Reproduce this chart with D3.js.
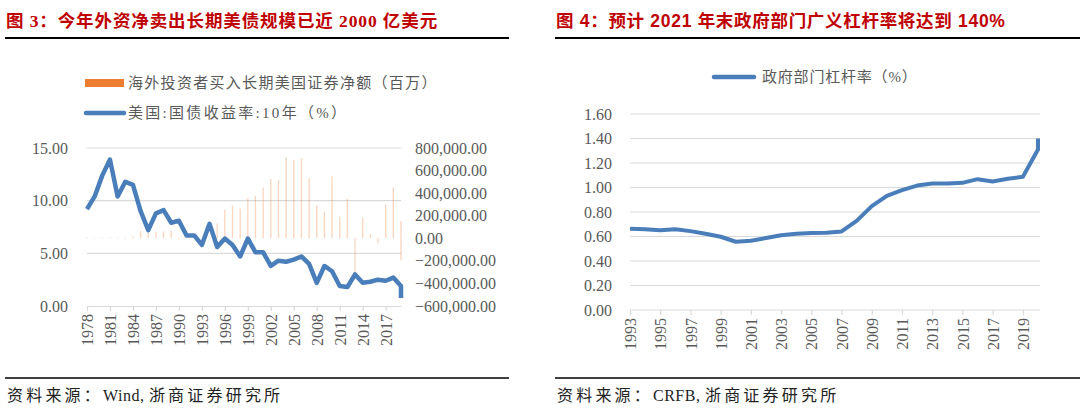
<!DOCTYPE html>
<html>
<head>
<meta charset="utf-8">
<script src="https://cdnjs.cloudflare.com/ajax/libs/d3/7.8.5/d3.min.js"></script>
<style>
  body { margin: 0; background: #fff; }
  svg { display: block; }
  text { font-family: "Liberation Serif", "Noto Sans CJK SC", serif; }
</style>
</head>
<body>
<div id="chart"></div>
<script>

// ---- left chart: foreign purchases of long-term US securities + 10Y yield
// the source plots its last value (2020) on the same slot as 2019
var usYears = d3.range(1978, 2020);  // x slots 1978..2019
var usYearLabels = ['1978','1981','1984','1987','1990','1993','1996','1999','2002','2005','2008','2011','2014','2017'];
var foreignBuy = [6000, 5000, 7000, 6000, 8000, 7000, 15000, 65000, 78000, 55000,
                  60000, 72000, -10000, 2000, 2000, 2000, 2000, 130000, 255000, 290000,
                  265000, 355000, 375000, 450000, 525000, 515000, 717000, 695000, 710000, 535000,
                  290000, 240000, 550000, 190000, 350000, -300000, 185000, 35000, -45000, 300000,
                  450000, 150000, -195000];
var yield10y = [9.2, 10.4, 12.4, 13.9, 10.4, 11.8, 11.5, 9.0, 7.2, 8.8,
                9.1, 7.9, 8.1, 6.7, 6.7, 5.8, 7.8, 5.6, 6.4, 5.8,
                4.7, 6.4, 5.1, 5.1, 3.8, 4.3, 4.2, 4.4, 4.7, 4.0,
                2.2, 3.8, 3.3, 1.9, 1.8, 3.0, 2.2, 2.3, 2.5, 2.4,
                2.7, 1.9, 0.75];
var yieldTicks = [0, 5, 10, 15];
var buyTicks = [-600000, -400000, -200000, 0, 200000, 400000, 600000, 800000];

// ---- right chart: government leverage ratio
// 2021 forecast sits on the 2020 slot, like the source
var levYears = d3.range(1993, 2021);  // x slots 1993..2020
var levYearLabels = ['1993','1995','1997','1999','2001','2003','2005','2007','2009','2011','2013','2015','2017','2019'];
var govLeverage = [0.663, 0.66, 0.652, 0.66, 0.644, 0.622, 0.598, 0.557, 0.565, 0.587,
                   0.61, 0.622, 0.628, 0.63, 0.641, 0.728, 0.848, 0.932, 0.978, 1.016,
                   1.033, 1.033, 1.038, 1.068, 1.049, 1.071, 1.087, 1.31, 1.40];
var levTicks = [0, 0.2, 0.4, 0.6, 0.8, 1.0, 1.2, 1.4, 1.6];

var blue = '#4a7ebb';
var grid = '#d9d9d9';
var axisText = '#595959';

var svg = d3.select('#chart').append('svg')
    .attr('width', 1080).attr('height', 412);

function slot(years, i) {
  return years[Math.min(i, years.length - 1)];
}

function header(x0, x1, title, latinFont, spacing) {
  svg.append('text')
     .attr('x', x0 + 1).attr('y', 27)
     .attr('fill', '#c00000')
     .attr('font-size', 17.5)
     .attr('font-weight', 'bold')
     .attr('letter-spacing', spacing)
     .style('font-family', latinFont + ', "Noto Sans CJK SC", sans-serif')
     .text(title);
  svg.append('line')
     .attr('x1', x0).attr('x2', x1).attr('y1', 38).attr('y2', 38)
     .attr('stroke', '#000').attr('stroke-width', 2);
}

// source note: chinese parts spaced wide, latin part plain
function footer(x0, x1, parts) {
  svg.append('line')
     .attr('x1', x0).attr('x2', x1).attr('y1', 378).attr('y2', 378)
     .attr('stroke', '#000').attr('stroke-width', 1.5);
  svg.append('text')
     .attr('x', x0 + 2).attr('y', 401)
     .attr('fill', '#222')
     .attr('font-size', 16)
     .selectAll('tspan')
     .data(parts)
     .enter().append('tspan')
     .attr('letter-spacing', function(d, i) { return i === 1 ? 0.5 : 3.2; })
     .text(function(d) { return d; });
}

// ================= left chart
header(5, 509, '图  3：今年外资净卖出长期美债规模已近 2000 亿美元', '"Liberation Serif"', 0.9);
footer(5, 509, ['资料来源：', 'Wind, ', '浙商证券研究所']);

var xL = d3.scalePoint().domain(usYears).range([87, 401]);
var yL = d3.scaleLinear().domain([0, 15]).range([306, 148]);
var yR = d3.scaleLinear().domain([-600000, 800000]).range([306, 148]);

var gL = svg.append('g');

// gridlines
gL.selectAll('.gridL')
  .data(yieldTicks.filter(function(d) { return d > 0; }))
  .enter().append('line')
  .attr('x1', 87).attr('x2', 401)
  .attr('y1', function(d) { return yL(d); })
  .attr('y2', function(d) { return yL(d); })
  .attr('stroke', grid).attr('stroke-width', 1.2);

// x axis
var axL = gL.append('g')
  .attr('transform', 'translate(0,' + yL(0) + ')')
  .call(d3.axisBottom(xL)
        .tickValues(usYearLabels.map(Number))
        .tickSize(5)
        .tickSizeOuter(0));
axL.select('.domain').attr('stroke', grid).attr('stroke-width', 1.2);
axL.selectAll('.tick line').attr('stroke', grid).attr('stroke-width', 1.2);
axL.selectAll('.tick text')
  .attr('fill', axisText)
  .attr('font-size', 16)
  .style('font-family', '"Liberation Serif", serif')
  .attr('transform', 'rotate(-90)')
  .attr('text-anchor', 'end')
  .attr('x', -8).attr('y', 0).attr('dy', '0.35em');

// left y labels
gL.selectAll('.ylabL')
  .data(yieldTicks)
  .enter().append('text')
  .attr('x', 68).attr('y', function(d) { return yL(d); })
  .attr('dy', '0.35em')
  .attr('text-anchor', 'end')
  .attr('fill', axisText).attr('font-size', 16)
  .text(d3.format('.2f'));

// right y labels
gL.selectAll('.ylabR')
  .data(buyTicks)
  .enter().append('text')
  .attr('x', 415).attr('y', function(d) { return yR(d); })
  .attr('dy', '0.35em')
  .attr('fill', axisText).attr('font-size', 16)
  .text(d3.format(',.2f'));

// bars (thin lines)
gL.selectAll('.bar')
  .data(foreignBuy)
  .enter().append('line')
  .attr('x1', function(d, i) { return xL(slot(usYears, i)); })
  .attr('x2', function(d, i) { return xL(slot(usYears, i)); })
  .attr('y1', yR(0))
  .attr('y2', function(d) { return yR(d); })
  .attr('stroke', '#ed7d31').attr('stroke-opacity', 0.32)
  .attr('stroke-width', 1.3);

// yield line
gL.append('path')
  .datum(yield10y)
  .attr('fill', 'none')
  .attr('stroke', blue).attr('stroke-width', 4.5)
  .attr('stroke-linejoin', 'round')
  .attr('d', d3.line()
        .x(function(d, i) { return xL(slot(usYears, i)); })
        .y(function(d) { return yL(d); }));

// legend
gL.append('rect')
  .attr('x', 85).attr('y', 79).attr('width', 39).attr('height', 8)
  .attr('fill', '#ed7d31');
gL.append('text')
  .attr('x', 128).attr('y', 83).attr('dy', '0.35em')
  .attr('fill', axisText).attr('font-size', 15).attr('letter-spacing', 1.3)
  .text('海外投资者买入长期美国证券净额（百万）');
gL.append('line')
  .attr('x1', 86).attr('x2', 124).attr('y1', 113).attr('y2', 113)
  .attr('stroke', blue).attr('stroke-width', 4.5).attr('stroke-linecap', 'round');
gL.append('text')
  .attr('x', 128).attr('y', 113).attr('dy', '0.35em')
  .attr('fill', axisText).attr('font-size', 15).attr('letter-spacing', 2.3)
  .text('美国:国债收益率:10年（%）');

// ================= right chart
header(555, 1080, '图  4：预计 2021 年末政府部门广义杠杆率将达到 140%', '"Liberation Sans"', 0.7);
footer(555, 1080, ['资料来源：', 'CRFB, ', '浙商证券研究所']);

var x2 = d3.scalePoint().domain(levYears).range([630, 1038]);
var y2 = d3.scaleLinear().domain([0, 1.6]).range([310, 114]);

var gR = svg.append('g');

gR.selectAll('.gridR')
  .data(levTicks.filter(function(d) { return d > 0; }))
  .enter().append('line')
  .attr('x1', 630).attr('x2', 1040)
  .attr('y1', function(d) { return y2(d); })
  .attr('y2', function(d) { return y2(d); })
  .attr('stroke', grid).attr('stroke-width', 1.2);

var axR = gR.append('g')
  .attr('transform', 'translate(0,' + y2(0) + ')')
  .call(d3.axisBottom(x2)
        .tickValues(levYearLabels.map(Number))
        .tickSize(5)
        .tickSizeOuter(0));
axR.select('.domain').attr('stroke', grid).attr('stroke-width', 1.2)
   .attr('d', 'M630,0H1040');
axR.selectAll('.tick line').attr('stroke', grid).attr('stroke-width', 1.2);
axR.selectAll('.tick text')
  .attr('fill', axisText)
  .attr('font-size', 16)
  .style('font-family', '"Liberation Serif", serif')
  .attr('transform', 'rotate(-90)')
  .attr('text-anchor', 'end')
  .attr('x', -8).attr('y', 0).attr('dy', '0.35em');

gR.selectAll('.ylab2')
  .data(levTicks)
  .enter().append('text')
  .attr('x', 612).attr('y', function(d) { return y2(d); })
  .attr('dy', '0.35em')
  .attr('text-anchor', 'end')
  .attr('fill', axisText).attr('font-size', 16)
  .text(d3.format('.2f'));

gR.append('path')
  .datum(govLeverage)
  .attr('fill', 'none')
  .attr('stroke', blue).attr('stroke-width', 4)
  .attr('stroke-linejoin', 'round')
  .attr('d', d3.line()
        .x(function(d, i) { return x2(slot(levYears, i)); })
        .y(function(d) { return y2(d); }));

gR.append('line')
  .attr('x1', 714).attr('x2', 754).attr('y1', 77).attr('y2', 77)
  .attr('stroke', blue).attr('stroke-width', 4.5).attr('stroke-linecap', 'round');
gR.append('text')
  .attr('x', 762).attr('y', 77).attr('dy', '0.35em')
  .attr('fill', axisText).attr('font-size', 15).attr('letter-spacing', 0.8)
  .text('政府部门杠杆率（%）');

</script>
</body>
</html>
